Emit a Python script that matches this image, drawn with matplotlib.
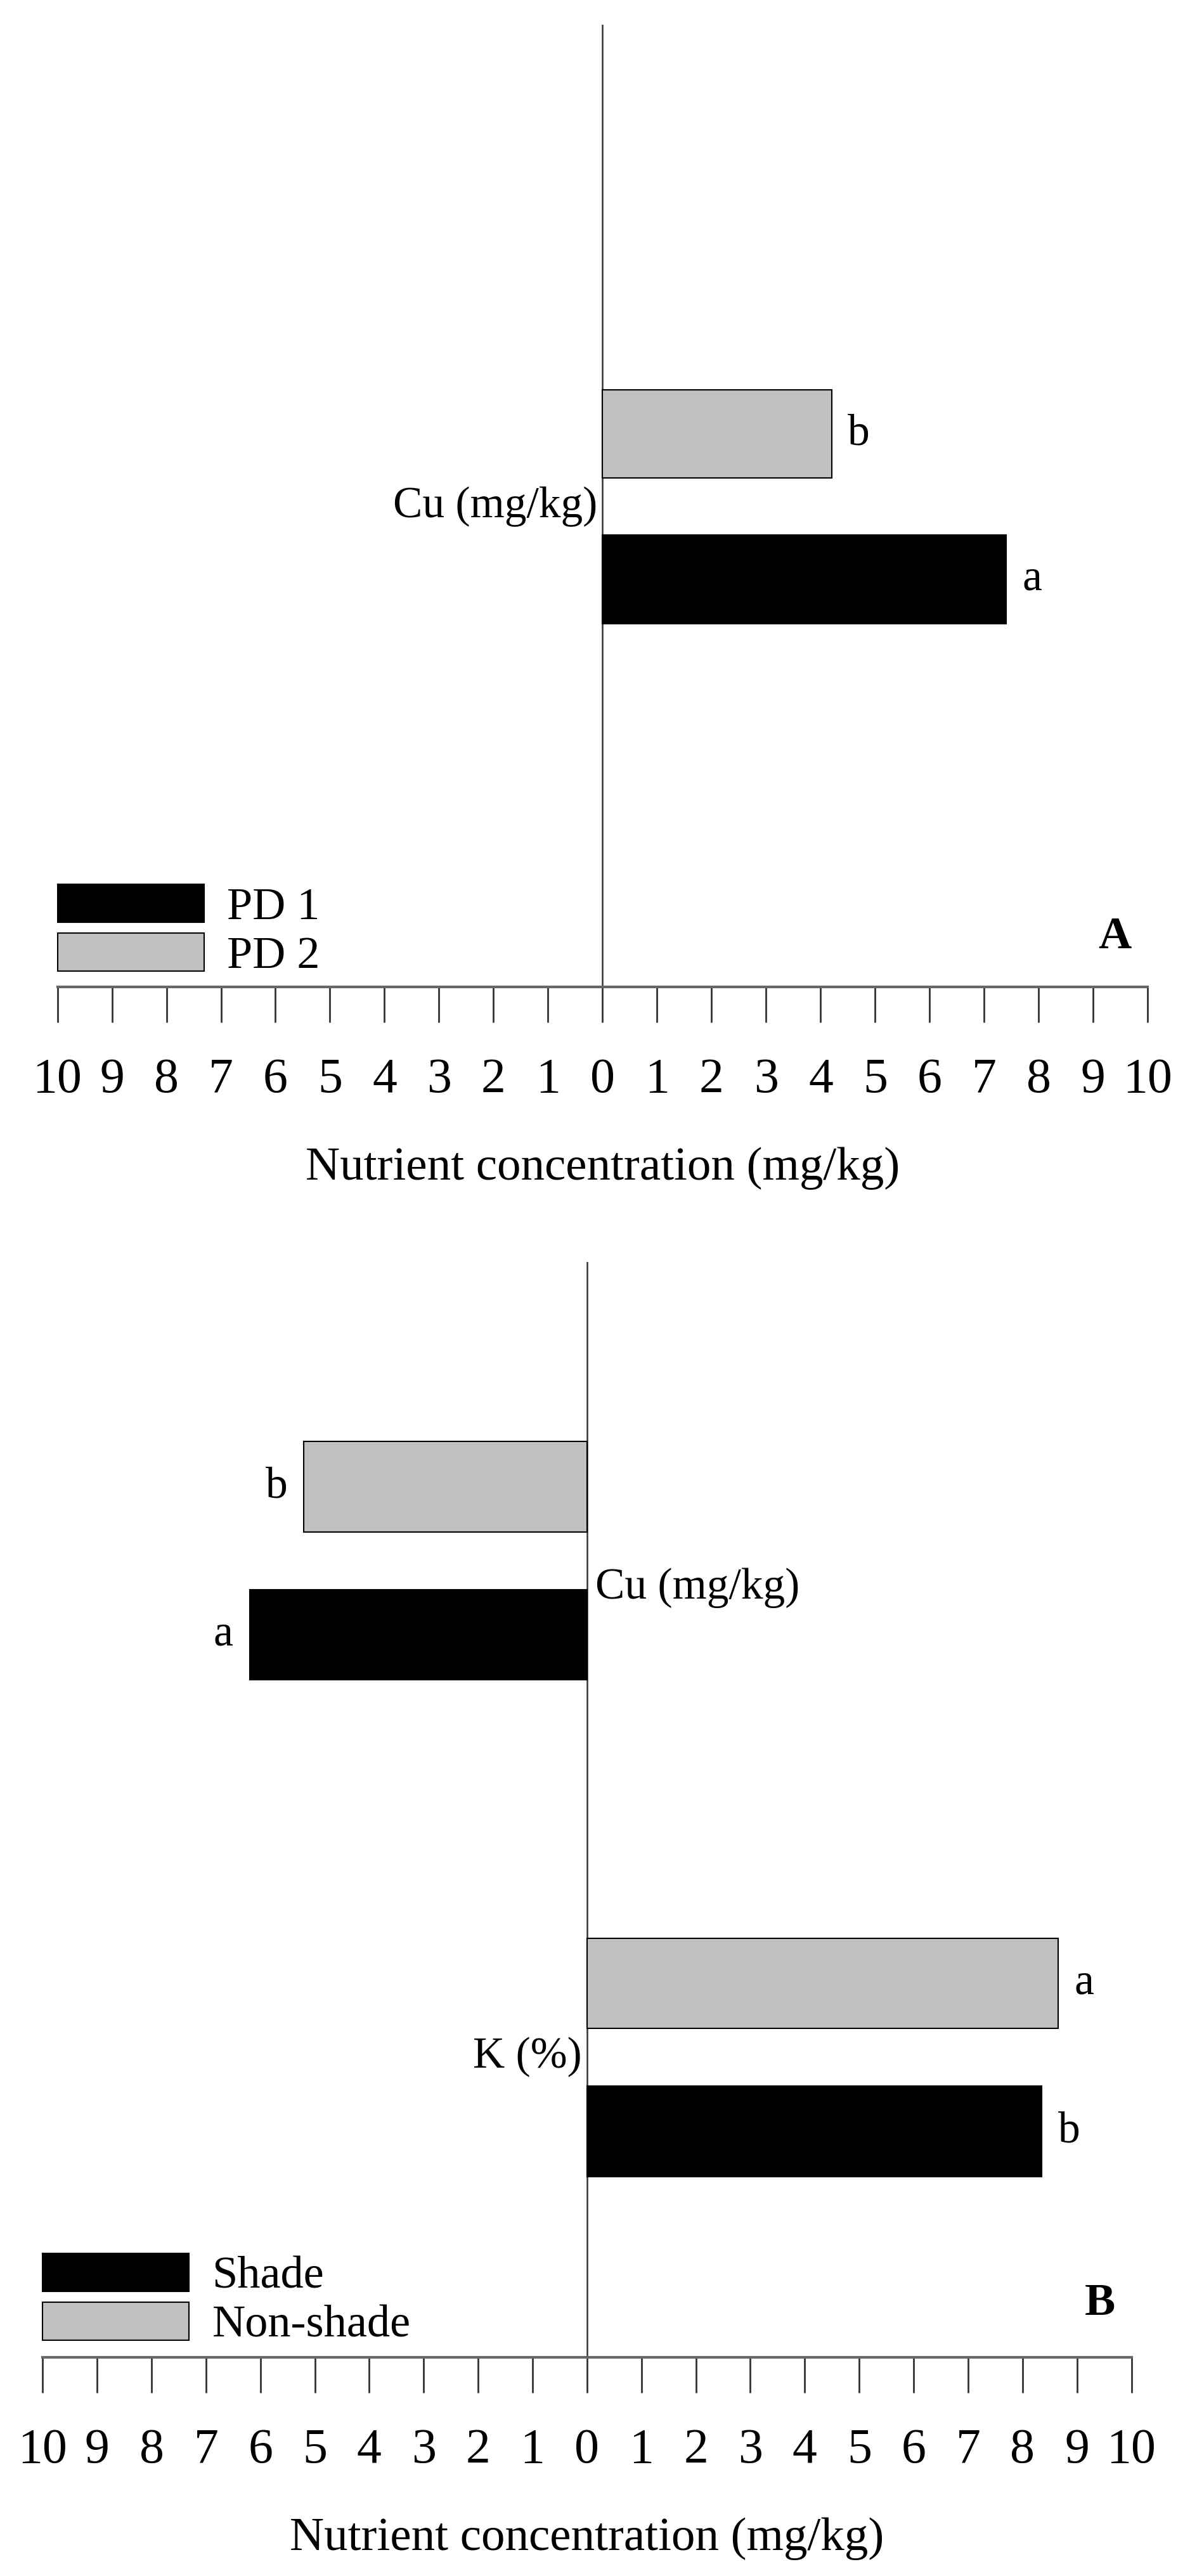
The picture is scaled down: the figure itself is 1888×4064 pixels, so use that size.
import matplotlib
matplotlib.use("Agg")
import matplotlib.pyplot as plt
from matplotlib.patches import Patch

plt.rcParams['font.family'] = ['Liberation Serif', 'DejaVu Serif']

# panel A data
a_nutrients = ['Cu (mg/kg)']
a_series = ['PD 1', 'PD 2']
a_values = {'PD 1': [7.4], 'PD 2': [4.2]}
a_letters = {'PD 1': ['a'], 'PD 2': ['b']}

# panel B data (negative = plotted to the left)
b_nutrients = ['Cu (mg/kg)', 'K (%)']
b_series = ['Shade', 'Non-shade']
b_values = {'Shade': [-6.2, 8.35], 'Non-shade': [-5.2, 8.65]}
b_letters = {'Shade': ['a', 'b'], 'Non-shade': ['b', 'a']}

ticks = list(range(-10, 11))
tick_labels = [str(abs(t)) for t in ticks]
colors = ['black', '#c0c0c0']

W, H = 1888, 4064
S = 1888 / 730.0  # display -> full pixels


def box(x0, x1, y_top, y_bot):
    return [x0 * S / W, 1 - y_bot * S / H, (x1 - x0) * S / W, (y_bot - y_top) * S / H]


def panel(ax, nutrients, series, values, letters, centers, top, label_side, tag):
    bh = 1.0
    off = 0.82
    for i, s in enumerate(series):
        # first series below, second above
        ys = [c - off if i == 0 else c + off for c in centers]
        ax.barh(ys, values[s], height=bh, color=colors[i], edgecolor='black', linewidth=1.5, zorder=3)
        for y, v, l in zip(ys, values[s], letters[s]):
            ax.text(v + (0.3 if v > 0 else -0.3), y, l, ha='left' if v > 0 else 'right',
                    va='center', fontsize=50)
    for n, c, side in zip(nutrients, centers, label_side):
        if side == 'left':
            ax.text(-0.1, c, n, ha='right', va='center', fontsize=50)
        else:
            ax.text(0.15, c - 0.3, n, ha='left', va='center', fontsize=50)
    ax.set_xlim(-10, 10)
    ax.set_ylim(0, top)
    ax.axvline(0, color='#333333', linewidth=1.8, zorder=2)
    for sp in ['top', 'right', 'left']:
        ax.spines[sp].set_visible(False)
    ax.spines['bottom'].set_color('#666666')
    ax.spines['bottom'].set_linewidth(3)
    ax.set_yticks([])
    ax.set_xticks(ticks)
    ax.set_xticklabels(tick_labels, fontsize=56)
    ax.tick_params(axis='x', direction='out', length=40, width=2, color='#333333', pad=40)
    ax.set_xlabel('Nutrient concentration (mg/kg)', fontsize=54, labelpad=50)
    ax.text(0.985, 0.03, tag, transform=ax.transAxes, ha='right', va='bottom',
            fontsize=52, fontweight='bold')
    handles = [Patch(facecolor=colors[i], edgecolor='black', linewidth=1.5) for i in range(2)]
    ax.legend(handles, series, loc='lower left', bbox_to_anchor=(0.0, 0.01), frameon=False,
              fontsize=52, handlelength=3.2, handleheight=0.9, labelspacing=0.1,
              handletextpad=0.5, borderaxespad=0.0, borderpad=0.0)


fig = plt.figure(figsize=(W / 100, H / 100), dpi=100)

axA = fig.add_axes(box(35, 700, 15, 602))
panel(axA, a_nutrients, a_series, a_values, a_letters, [293 / 54], 587 / 54,
      ['left'], 'A')

axB = fig.add_axes(box(26, 690, 770, 1438))
panel(axB, b_nutrients, b_series, b_values, b_letters, [486 / 55, 183 / 55], 668 / 55,
      ['right', 'left'], 'B')

fig.savefig('out.png', dpi=100)
